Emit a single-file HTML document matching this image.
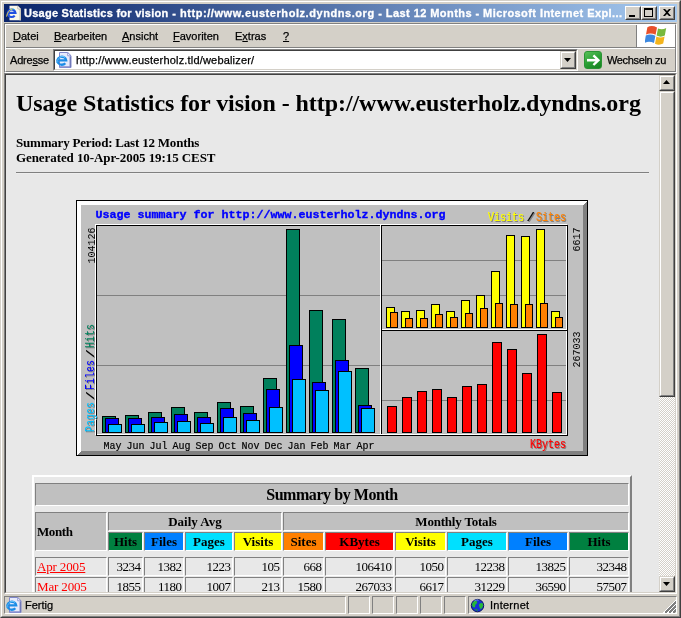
<!DOCTYPE html>
<html>
<head>
<meta charset="utf-8">
<title>Usage Statistics for vision - http://www.eusterholz.dyndns.org - Last 12 Months</title>
<style>
html,body{margin:0;padding:0;}
body{width:681px;height:618px;position:relative;overflow:hidden;background:#D4D0C8;font-family:"Liberation Sans",sans-serif;font-size:11px;color:#000;}
#root{position:absolute;left:0;top:0;width:681px;height:618px;overflow:hidden;will-change:transform;}
.a{position:absolute;}
.ui{position:absolute;font-family:"Liberation Sans",sans-serif;font-size:11px;line-height:13px;white-space:nowrap;color:#000;-webkit-text-stroke:0.25px #000;}
u{text-decoration:underline;}
/* window frame */
#frame{left:0;top:0;width:681px;height:618px;box-sizing:border-box;border:1px solid;border-color:#D4D0C8 #404040 #404040 #D4D0C8;}
#frame2{left:1px;top:1px;width:679px;height:616px;box-sizing:border-box;border:1px solid;border-color:#fff #808080 #808080 #fff;}
#title{left:4px;top:4px;width:673px;height:18px;background:linear-gradient(to right,#0A246A 0%,#A6CAF0 100%);}
#ttext{left:24px;top:6px;color:#fff;font-weight:bold;font-size:11px;line-height:14px;letter-spacing:0.43px;-webkit-text-stroke:0.3px #fff;}
.tb{position:absolute;top:6px;width:16px;height:14px;box-sizing:border-box;background:#D4D0C8;border:1px solid;border-color:#fff #404040 #404040 #fff;}
.tb:before{content:"";position:absolute;left:0;top:0;right:0;bottom:0;border:1px solid;border-color:#D4D0C8 #808080 #808080 #D4D0C8;}
/* page */
#page{left:6px;top:75px;width:653px;height:517px;background:#E8E8E8;overflow:hidden;}
.ser{position:absolute;font-family:"Liberation Serif",serif;white-space:nowrap;color:#000;}
/* table */
.c{position:absolute;box-sizing:border-box;border:1px solid;border-color:#808080 #fff #fff #808080;padding:1px;font-family:"Liberation Serif",serif;font-weight:bold;font-size:13px;line-height:15px;text-align:center;white-space:nowrap;color:#000;}
.d{font-weight:normal;text-align:right;}
/* scrollbar */
.sb{position:absolute;box-sizing:border-box;background:#D4D0C8;border:1px solid;border-color:#D4D0C8 #404040 #404040 #D4D0C8;}
.sb:before{content:"";position:absolute;left:0;top:0;right:0;bottom:0;border:1px solid;border-color:#fff #808080 #808080 #fff;}
.sp{position:absolute;box-sizing:border-box;height:18px;top:596px;border:1px solid;border-color:#808080 #fff #fff #808080;}
</style>
</head>
<body>
<div id="root">
<!-- ===== window frame ===== -->
<div class="a" id="frame"></div>
<div class="a" id="frame2"></div>
<div class="a" id="title"></div>
<!-- IE title icon -->
<svg class="a" style="left:6px;top:5px" width="16" height="16" viewBox="0 0 16 16">
  <path d="M3.5 0.8h8.3l3.2 3.2v11.2H3.5z" fill="#FAF7EA"/>
  <path d="M13.4 4v11.2h1.6V4z" fill="#CFCBBB"/>
  <path d="M11.8 0.8v3.2h3.2z" fill="#fff" stroke="#8F8B7B" stroke-width=".5"/>
  <path d="M2.6 7.9H9.5A3.9 3.8 0 1 0 8.7 10.6" fill="none" stroke="#2250E0" stroke-width="2.1"/>
  <path d="M4 5.2C5.5 3.6 7.6 3.6 8.8 4.8" fill="none" stroke="#35B7F0" stroke-width="1"/>
  <path d="M0.6 11.6C1 7.6 3.6 4.6 6.6 3.8" fill="none" stroke="#E8D04A" stroke-width="1"/>
</svg>
<div class="ui" id="ttext" style="white-space:pre"><span style="letter-spacing:0.258px">Usage Statistics for vision</span><span style="letter-spacing:0.56px"> - http://www.eusterholz.dyndns.org</span><span style="letter-spacing:0.439px"> - Last 12 Months</span><span style="letter-spacing:0.427px"> - Microsoft Internet Expl...</span></div>
<div class="tb" style="left:625px"><div class="a" style="left:3px;top:8px;width:6px;height:2px;background:#000"></div></div>
<div class="tb" style="left:641px"><div class="a" style="left:2px;top:1px;width:9px;height:9px;box-sizing:border-box;border:1px solid #000;border-top-width:2px"></div></div>
<div class="tb" style="left:659px"><svg class="a" style="left:3px;top:2px" width="8" height="7" viewBox="0 0 8 7"><path d="M0 0h2l2 2 2-2h2L5 3.5 8 7H6L4 5 2 7H0l3-3.5z" fill="#000"/></svg></div>

<!-- ===== menu bar ===== -->
<div class="ui" style="left:13px;top:30px"><u>D</u>atei</div>
<div class="ui" style="left:54px;top:30px"><u>B</u>earbeiten</div>
<div class="ui" style="left:122px;top:30px"><u>A</u>nsicht</div>
<div class="ui" style="left:173px;top:30px"><u>F</u>avoriten</div>
<div class="ui" style="left:235px;top:30px">E<u>x</u>tras</div>
<div class="ui" style="left:283px;top:30px"><u>?</u></div>
<!-- windows flag box -->
<div class="a" style="left:636px;top:25px;width:39px;height:22px;background:#fff;border-left:1px solid #808080;box-sizing:border-box"></div>
<svg class="a" style="left:645px;top:25px" width="22" height="20" viewBox="0 0 22 20">
  <path d="M2.4 2.2C5.4 0.6 8.6 0.8 12 2.6L10.6 9.8C7.6 8.2 4.4 8 1 9.4z" fill="#E8502A"/>
  <path d="M13 3.4C15.8 4.6 18.4 4.4 21.2 3L19.8 10.6C17 12 14.4 12 11.6 10.6z" fill="#78B83C"/>
  <path d="M0.8 10.4C3.8 9 7 9.2 10.4 10.8L9 18C6 16.6 2.8 16.4 -0.4 17.8z" fill="#3C88E0"/>
  <path d="M11.4 11.6C14.2 12.8 16.8 12.8 19.6 11.4L18.2 18.6C15.4 20 12.8 20 10 18.8z" fill="#F4B41C"/>
</svg>
<!-- rebar etched border + separator between menu and address -->
<div class="a" style="left:4px;top:23px;width:673px;height:50px;box-sizing:border-box;border:1px solid;border-color:#808080 #fff #fff #808080;"></div>
<div class="a" style="left:5px;top:24px;width:671px;height:48px;box-sizing:border-box;border:1px solid;border-color:#fff #808080 #808080 #fff;"></div>
<div class="a" style="left:6px;top:47px;width:669px;height:1px;background:#808080"></div>
<div class="a" style="left:6px;top:48px;width:669px;height:1px;background:#fff"></div>

<!-- ===== address bar ===== -->
<div class="ui" style="left:10px;top:54px;letter-spacing:-0.2px">Adre<u>s</u>se</div>
<div class="a" style="left:53px;top:49px;width:525px;height:22px;box-sizing:border-box;background:#fff;border:1px solid;border-color:#808080 #fff #fff #808080;"></div>
<div class="a" style="left:54px;top:50px;width:523px;height:20px;box-sizing:border-box;border:1px solid;border-color:#404040 #D4D0C8 #D4D0C8 #404040;"></div>
<svg class="a" style="left:56px;top:52px" width="16" height="16" viewBox="0 0 16 16">
  <path d="M3.5 0.5h8.2l3.3 3.3v11.7H3.5z" fill="#E6EAFB" stroke="#8088CC" stroke-width="1"/>
  <path d="M13.6 4.5v10.5h1.4V4.5z" fill="#7078B8"/>
  <path d="M4 14.2h10v1.3H4z" fill="#8C94D0"/>
  <path d="M11.7 0.5v3.3h3.3z" fill="#F8FAFF" stroke="#8088CC" stroke-width=".8"/>
  <path d="M2.2 8.4H10.2A4.4 4 0 1 0 9.3 11.2" fill="none" stroke="#1C8CE6" stroke-width="2.3"/>
  <path d="M3.6 5.6C5.2 4 7.6 4 9 5.4" fill="none" stroke="#7FD4FF" stroke-width="1"/>
  <path d="M0.7 11C1.2 7.6 3.6 5 6 4.4" fill="none" stroke="#5CB8F4" stroke-width="1"/>
</svg>
<div class="ui" style="left:76px;top:54px;letter-spacing:0.18px">http://www.eusterholz.tld/webalizer/</div>
<div class="sb" style="left:560px;top:51px;width:16px;height:18px"><svg class="a" style="left:3px;top:6px" width="7" height="4" viewBox="0 0 7 4"><path d="M0 0h7L3.5 4z" fill="#000"/></svg></div>
<!-- go button -->
<div class="a" style="left:584px;top:51px;width:18px;height:18px;box-sizing:border-box;border:1px solid #2A9434;border-radius:3px;background:linear-gradient(150deg,#58C058 0%,#2CA036 50%,#14801E 100%)"></div>
<svg class="a" style="left:584px;top:51px" width="18" height="18" viewBox="0 0 18 18">
  <path d="M3 9.2H13" fill="none" stroke="#fff" stroke-width="2.6"/>
  <path d="M9.4 4.4l5 4.8-5 4.8" fill="none" stroke="#fff" stroke-width="2.4"/>
</svg>
<div class="ui" style="left:607px;top:54px;letter-spacing:-0.35px">Wechseln zu</div>

<!-- ===== content frame ===== -->
<div class="a" style="left:4px;top:73px;width:673px;height:521px;box-sizing:border-box;border:1px solid;border-color:#808080 #fff #fff #808080;"></div>
<div class="a" style="left:5px;top:74px;width:671px;height:519px;box-sizing:border-box;border:1px solid;border-color:#404040 #D4D0C8 #D4D0C8 #404040;"></div>

<div class="a" id="page">
  <!-- coordinates inside #page are offset by (6,75) -->
  <div class="ser" style="left:10px;top:14px;font-size:24px;line-height:28px;font-weight:bold;letter-spacing:-0.066px">Usage Statistics for vision - http://www.eusterholz.dyndns.org</div>
  <div class="ser" style="left:10px;top:60px;font-size:13px;line-height:15px;font-weight:bold;letter-spacing:-0.2px">Summary Period: Last 12 Months</div>
  <div class="ser" style="left:10px;top:75px;font-size:13px;line-height:15px;font-weight:bold;letter-spacing:-0.085px">Generated 10-Apr-2005 19:15 CEST</div>
  <div class="a" style="left:10px;top:97px;width:633px;height:2px;box-sizing:border-box;border-top:1px solid #808080;border-bottom:1px solid #EEE"></div>
  <svg class="a" style="left:70px;top:125px" width="512" height="256" viewBox="0 0 512 256" shape-rendering="crispEdges">
<rect x="0" y="0" width="512" height="256" fill="#C0C0C0"/>
<path d="M0 0H512V256H0Z M5 5V251H507V5Z" fill-rule="evenodd" fill="#fff"/>
<path d="M512 0V256H0L5 251H507V5Z" fill="#808080"/>
<rect x="0.5" y="0.5" width="511" height="255" fill="none" stroke="#000"/>
<rect x="19.5" y="24.5" width="471" height="210" fill="none" stroke="#fff"/>
<rect x="20.5" y="25.5" width="471" height="210" fill="none" stroke="#000"/>
<path d="M304.5 25V234M305 129.5H491" stroke="#fff" fill="none"/>
<path d="M305.5 25V234M305 130.5H491" stroke="#000" fill="none"/>
<path d="M21 95.5H304" stroke="#808080" fill="none"/>
<path d="M21 165.5H304" stroke="#808080" fill="none"/>
<path d="M306 60.5H490" stroke="#808080" fill="none"/>
<path d="M306 95.5H490" stroke="#808080" fill="none"/>
<path d="M306 165.5H490" stroke="#808080" fill="none"/>
<path d="M306 200.5H490" stroke="#808080" fill="none"/>
<rect x="26.5" y="216.5" width="13" height="16" fill="#00805C" stroke="#000"/>
<rect x="29.5" y="218.5" width="13" height="14" fill="#0000FF" stroke="#000"/>
<rect x="32.5" y="224.5" width="13" height="8" fill="#00C0FF" stroke="#000"/>
<rect x="310.5" y="107.5" width="8" height="20" fill="#FFFF00" stroke="#000"/>
<rect x="314.5" y="112.5" width="7" height="15" fill="#FF8000" stroke="#000"/>
<rect x="311.5" y="206.5" width="9" height="26" fill="#FF0000" stroke="#000"/>
<rect x="49.5" y="215.5" width="13" height="17" fill="#00805C" stroke="#000"/>
<rect x="52.5" y="218.5" width="13" height="14" fill="#0000FF" stroke="#000"/>
<rect x="55.5" y="224.5" width="13" height="8" fill="#00C0FF" stroke="#000"/>
<rect x="325.5" y="111.5" width="8" height="16" fill="#FFFF00" stroke="#000"/>
<rect x="329.5" y="118.5" width="7" height="9" fill="#FF8000" stroke="#000"/>
<rect x="326.5" y="197.5" width="9" height="35" fill="#FF0000" stroke="#000"/>
<rect x="72.5" y="212.5" width="13" height="20" fill="#00805C" stroke="#000"/>
<rect x="75.5" y="217.5" width="13" height="15" fill="#0000FF" stroke="#000"/>
<rect x="78.5" y="222.5" width="13" height="10" fill="#00C0FF" stroke="#000"/>
<rect x="340.5" y="110.5" width="8" height="17" fill="#FFFF00" stroke="#000"/>
<rect x="344.5" y="118.5" width="7" height="9" fill="#FF8000" stroke="#000"/>
<rect x="341.5" y="191.5" width="9" height="41" fill="#FF0000" stroke="#000"/>
<rect x="95.5" y="207.5" width="13" height="25" fill="#00805C" stroke="#000"/>
<rect x="98.5" y="214.5" width="13" height="18" fill="#0000FF" stroke="#000"/>
<rect x="101.5" y="221.5" width="13" height="11" fill="#00C0FF" stroke="#000"/>
<rect x="355.5" y="104.5" width="8" height="23" fill="#FFFF00" stroke="#000"/>
<rect x="359.5" y="114.5" width="7" height="13" fill="#FF8000" stroke="#000"/>
<rect x="356.5" y="189.5" width="9" height="43" fill="#FF0000" stroke="#000"/>
<rect x="118.5" y="212.5" width="13" height="20" fill="#00805C" stroke="#000"/>
<rect x="121.5" y="217.5" width="13" height="15" fill="#0000FF" stroke="#000"/>
<rect x="124.5" y="223.5" width="13" height="9" fill="#00C0FF" stroke="#000"/>
<rect x="370.5" y="111.5" width="8" height="16" fill="#FFFF00" stroke="#000"/>
<rect x="374.5" y="117.5" width="7" height="10" fill="#FF8000" stroke="#000"/>
<rect x="371.5" y="197.5" width="9" height="35" fill="#FF0000" stroke="#000"/>
<rect x="141.5" y="202.5" width="13" height="30" fill="#00805C" stroke="#000"/>
<rect x="144.5" y="208.5" width="13" height="24" fill="#0000FF" stroke="#000"/>
<rect x="147.5" y="217.5" width="13" height="15" fill="#00C0FF" stroke="#000"/>
<rect x="385.5" y="100.5" width="8" height="27" fill="#FFFF00" stroke="#000"/>
<rect x="389.5" y="113.5" width="7" height="14" fill="#FF8000" stroke="#000"/>
<rect x="386.5" y="186.5" width="9" height="46" fill="#FF0000" stroke="#000"/>
<rect x="164.5" y="206.5" width="13" height="26" fill="#00805C" stroke="#000"/>
<rect x="167.5" y="213.5" width="13" height="19" fill="#0000FF" stroke="#000"/>
<rect x="170.5" y="220.5" width="13" height="12" fill="#00C0FF" stroke="#000"/>
<rect x="400.5" y="95.5" width="8" height="32" fill="#FFFF00" stroke="#000"/>
<rect x="404.5" y="108.5" width="7" height="19" fill="#FF8000" stroke="#000"/>
<rect x="401.5" y="184.5" width="9" height="48" fill="#FF0000" stroke="#000"/>
<rect x="187.5" y="178.5" width="13" height="54" fill="#00805C" stroke="#000"/>
<rect x="190.5" y="189.5" width="13" height="43" fill="#0000FF" stroke="#000"/>
<rect x="193.5" y="207.5" width="13" height="25" fill="#00C0FF" stroke="#000"/>
<rect x="415.5" y="71.5" width="8" height="56" fill="#FFFF00" stroke="#000"/>
<rect x="419.5" y="103.5" width="7" height="24" fill="#FF8000" stroke="#000"/>
<rect x="416.5" y="142.5" width="9" height="90" fill="#FF0000" stroke="#000"/>
<rect x="210.5" y="29.5" width="13" height="203" fill="#00805C" stroke="#000"/>
<rect x="213.5" y="145.5" width="13" height="87" fill="#0000FF" stroke="#000"/>
<rect x="216.5" y="179.5" width="13" height="53" fill="#00C0FF" stroke="#000"/>
<rect x="430.5" y="35.5" width="8" height="92" fill="#FFFF00" stroke="#000"/>
<rect x="434.5" y="104.5" width="7" height="23" fill="#FF8000" stroke="#000"/>
<rect x="431.5" y="149.5" width="9" height="83" fill="#FF0000" stroke="#000"/>
<rect x="233.5" y="110.5" width="13" height="122" fill="#00805C" stroke="#000"/>
<rect x="236.5" y="182.5" width="13" height="50" fill="#0000FF" stroke="#000"/>
<rect x="239.5" y="190.5" width="13" height="42" fill="#00C0FF" stroke="#000"/>
<rect x="445.5" y="36.5" width="8" height="91" fill="#FFFF00" stroke="#000"/>
<rect x="449.5" y="104.5" width="7" height="23" fill="#FF8000" stroke="#000"/>
<rect x="446.5" y="173.5" width="9" height="59" fill="#FF0000" stroke="#000"/>
<rect x="256.5" y="119.5" width="13" height="113" fill="#00805C" stroke="#000"/>
<rect x="259.5" y="160.5" width="13" height="72" fill="#0000FF" stroke="#000"/>
<rect x="262.5" y="171.5" width="13" height="61" fill="#00C0FF" stroke="#000"/>
<rect x="460.5" y="29.5" width="8" height="98" fill="#FFFF00" stroke="#000"/>
<rect x="464.5" y="103.5" width="7" height="24" fill="#FF8000" stroke="#000"/>
<rect x="461.5" y="134.5" width="9" height="98" fill="#FF0000" stroke="#000"/>
<rect x="279.5" y="168.5" width="13" height="64" fill="#00805C" stroke="#000"/>
<rect x="282.5" y="205.5" width="13" height="27" fill="#0000FF" stroke="#000"/>
<rect x="285.5" y="208.5" width="13" height="24" fill="#00C0FF" stroke="#000"/>
<rect x="475.5" y="111.5" width="8" height="16" fill="#FFFF00" stroke="#000"/>
<rect x="479.5" y="117.5" width="7" height="10" fill="#FF8000" stroke="#000"/>
<rect x="476.5" y="192.5" width="9" height="40" fill="#FF0000" stroke="#000"/>
</svg>
<svg class="a" style="left:70px;top:125px" width="512" height="256" viewBox="0 0 512 256" font-family="'Liberation Mono',monospace">
<text x="19.6" y="18.2" font-size="11.67" fill="#0000FF" textLength="350" lengthAdjust="spacingAndGlyphs" font-weight="bold" stroke="#0000FF" stroke-width="0.35">Usage summary for http://www.eusterholz.dyndns.org</text>
<text x="27.5" y="249" font-size="11.5" fill="#000" textLength="18" lengthAdjust="spacingAndGlyphs" stroke="#000" stroke-width="0.2">May</text>
<text x="50.5" y="249" font-size="11.5" fill="#000" textLength="18" lengthAdjust="spacingAndGlyphs" stroke="#000" stroke-width="0.2">Jun</text>
<text x="73.5" y="249" font-size="11.5" fill="#000" textLength="18" lengthAdjust="spacingAndGlyphs" stroke="#000" stroke-width="0.2">Jul</text>
<text x="96.5" y="249" font-size="11.5" fill="#000" textLength="18" lengthAdjust="spacingAndGlyphs" stroke="#000" stroke-width="0.2">Aug</text>
<text x="119.5" y="249" font-size="11.5" fill="#000" textLength="18" lengthAdjust="spacingAndGlyphs" stroke="#000" stroke-width="0.2">Sep</text>
<text x="142.5" y="249" font-size="11.5" fill="#000" textLength="18" lengthAdjust="spacingAndGlyphs" stroke="#000" stroke-width="0.2">Oct</text>
<text x="165.5" y="249" font-size="11.5" fill="#000" textLength="18" lengthAdjust="spacingAndGlyphs" stroke="#000" stroke-width="0.2">Nov</text>
<text x="188.5" y="249" font-size="11.5" fill="#000" textLength="18" lengthAdjust="spacingAndGlyphs" stroke="#000" stroke-width="0.2">Dec</text>
<text x="211.5" y="249" font-size="11.5" fill="#000" textLength="18" lengthAdjust="spacingAndGlyphs" stroke="#000" stroke-width="0.2">Jan</text>
<text x="234.5" y="249" font-size="11.5" fill="#000" textLength="18" lengthAdjust="spacingAndGlyphs" stroke="#000" stroke-width="0.2">Feb</text>
<text x="257.5" y="249" font-size="11.5" fill="#000" textLength="18" lengthAdjust="spacingAndGlyphs" stroke="#000" stroke-width="0.2">Mar</text>
<text x="280.5" y="249" font-size="11.5" fill="#000" textLength="18" lengthAdjust="spacingAndGlyphs" stroke="#000" stroke-width="0.2">Apr</text>
<text x="455" y="249" font-size="12" fill="#808080" textLength="36" lengthAdjust="spacingAndGlyphs" stroke="#808080" stroke-width="0.2">KBytes</text>
<text x="454" y="248" font-size="12" fill="#FF0000" textLength="36" lengthAdjust="spacingAndGlyphs" stroke="#FF0000" stroke-width="0.2">KBytes</text>
<text x="413" y="21.7" font-size="12" fill="#808080" textLength="36" lengthAdjust="spacingAndGlyphs" stroke="#808080" stroke-width="0.2">Visits</text>
<text x="412" y="20.7" font-size="12" fill="#FFFF00" textLength="36" lengthAdjust="spacingAndGlyphs" stroke="#FFFF00" stroke-width="0.2">Visits</text>
<text x="451.5" y="21.8" font-size="13" fill="#808080" textLength="8.5" lengthAdjust="spacingAndGlyphs" stroke="#808080" stroke-width="0.2">/</text>
<text x="450.5" y="20.8" font-size="13" fill="#000" textLength="8.5" lengthAdjust="spacingAndGlyphs" stroke="#000" stroke-width="0.2">/</text>
<text x="461" y="21.7" font-size="12" fill="#808080" textLength="30" lengthAdjust="spacingAndGlyphs" stroke="#808080" stroke-width="0.2">Sites</text>
<text x="460" y="20.7" font-size="12" fill="#FF8000" textLength="30" lengthAdjust="spacingAndGlyphs" stroke="#FF8000" stroke-width="0.2">Sites</text>
<text transform="translate(19 63.5) rotate(-90)" font-size="11.5" fill="#000" textLength="36" lengthAdjust="spacingAndGlyphs">104126</text>
<text transform="translate(504.2 51.5) rotate(-90)" font-size="11.5" fill="#000" textLength="24" lengthAdjust="spacingAndGlyphs">6617</text>
<text transform="translate(504.2 167.5) rotate(-90)" font-size="11.5" fill="#000" textLength="36" lengthAdjust="spacingAndGlyphs">267033</text>
<text transform="translate(19 233) rotate(-90)" font-size="12" fill="#808080" textLength="30" lengthAdjust="spacingAndGlyphs">Pages</text>
<text transform="translate(18 232) rotate(-90)" font-size="12" fill="#00C0FF" textLength="30" lengthAdjust="spacingAndGlyphs">Pages</text>
<text transform="translate(18.8 201) rotate(-90)" font-size="10.5" fill="#808080" textLength="9" lengthAdjust="spacingAndGlyphs">/</text>
<text transform="translate(17.8 200) rotate(-90)" font-size="10.5" fill="#000" textLength="9" lengthAdjust="spacingAndGlyphs">/</text>
<text transform="translate(19 191) rotate(-90)" font-size="12" fill="#808080" textLength="30" lengthAdjust="spacingAndGlyphs">Files</text>
<text transform="translate(18 190) rotate(-90)" font-size="12" fill="#0000FF" textLength="30" lengthAdjust="spacingAndGlyphs">Files</text>
<text transform="translate(18.8 159) rotate(-90)" font-size="10.5" fill="#808080" textLength="9" lengthAdjust="spacingAndGlyphs">/</text>
<text transform="translate(17.8 158) rotate(-90)" font-size="10.5" fill="#000" textLength="9" lengthAdjust="spacingAndGlyphs">/</text>
<text transform="translate(19 149) rotate(-90)" font-size="12" fill="#808080" textLength="24" lengthAdjust="spacingAndGlyphs">Hits</text>
<text transform="translate(18 148) rotate(-90)" font-size="12" fill="#00805C" textLength="24" lengthAdjust="spacingAndGlyphs">Hits</text>
</svg>
  <div class="a" style="left:26px;top:400px;width:600px;height:200px;box-sizing:border-box;border:2px solid;border-color:#fff #808080 #808080 #fff;"></div>
<div class="c" style="left:29px;top:408px;width:594px;height:23px;background:#C0C0C0;font-size:16px;line-height:19px;letter-spacing:-0.44px;">Summary by Month</div>
<div class="c" style="left:29px;top:437px;width:72px;height:39px;background:#C0C0C0;text-align:left;line-height:35px;letter-spacing:-0.4px;">Month</div>
<div class="c" style="left:102px;top:437px;width:174px;height:19px;background:#C0C0C0;">Daily Avg</div>
<div class="c" style="left:277px;top:437px;width:346px;height:19px;background:#C0C0C0;letter-spacing:-0.2px;">Monthly Totals</div>
<div class="c" style="left:102px;top:457px;width:35px;height:19px;background:#008040;">Hits</div>
<div class="c" style="left:138px;top:457px;width:40px;height:19px;background:#0080FF;">Files</div>
<div class="c" style="left:179px;top:457px;width:48px;height:19px;background:#00E0FF;">Pages</div>
<div class="c" style="left:228px;top:457px;width:48px;height:19px;background:#FFFF00;">Visits</div>
<div class="c" style="left:277px;top:457px;width:41px;height:19px;background:#FF8000;">Sites</div>
<div class="c" style="left:319px;top:457px;width:69px;height:19px;background:#FF0000;">KBytes</div>
<div class="c" style="left:389px;top:457px;width:51px;height:19px;background:#FFFF00;">Visits</div>
<div class="c" style="left:441px;top:457px;width:60px;height:19px;background:#00E0FF;">Pages</div>
<div class="c" style="left:502px;top:457px;width:60px;height:19px;background:#0080FF;">Files</div>
<div class="c" style="left:563px;top:457px;width:60px;height:19px;background:#008040;">Hits</div>
<div class="c d" style="left:29px;top:482px;width:72px;height:19px;text-align:left;letter-spacing:-0.15px;"><span style="color:#FF0000;text-decoration:underline">Apr 2005</span></div>
<div class="c d" style="left:102px;top:482px;width:35px;height:19px;letter-spacing:-0.5px;padding-right:1.5px;">3234</div>
<div class="c d" style="left:138px;top:482px;width:40px;height:19px;letter-spacing:-0.5px;padding-right:1.5px;">1382</div>
<div class="c d" style="left:179px;top:482px;width:48px;height:19px;letter-spacing:-0.5px;padding-right:1.5px;">1223</div>
<div class="c d" style="left:228px;top:482px;width:48px;height:19px;letter-spacing:-0.5px;padding-right:1.5px;">105</div>
<div class="c d" style="left:277px;top:482px;width:41px;height:19px;letter-spacing:-0.5px;padding-right:1.5px;">668</div>
<div class="c d" style="left:319px;top:482px;width:69px;height:19px;letter-spacing:-0.5px;padding-right:1.5px;">106410</div>
<div class="c d" style="left:389px;top:482px;width:51px;height:19px;letter-spacing:-0.5px;padding-right:1.5px;">1050</div>
<div class="c d" style="left:441px;top:482px;width:60px;height:19px;letter-spacing:-0.5px;padding-right:1.5px;">12238</div>
<div class="c d" style="left:502px;top:482px;width:60px;height:19px;letter-spacing:-0.5px;padding-right:1.5px;">13825</div>
<div class="c d" style="left:563px;top:482px;width:60px;height:19px;letter-spacing:-0.5px;padding-right:1.5px;">32348</div>
<div class="c d" style="left:29px;top:502px;width:72px;height:19px;text-align:left;letter-spacing:-0.15px;"><span style="color:#FF0000;text-decoration:underline">Mar 2005</span></div>
<div class="c d" style="left:102px;top:502px;width:35px;height:19px;letter-spacing:-0.5px;padding-right:1.5px;">1855</div>
<div class="c d" style="left:138px;top:502px;width:40px;height:19px;letter-spacing:-0.5px;padding-right:1.5px;">1180</div>
<div class="c d" style="left:179px;top:502px;width:48px;height:19px;letter-spacing:-0.5px;padding-right:1.5px;">1007</div>
<div class="c d" style="left:228px;top:502px;width:48px;height:19px;letter-spacing:-0.5px;padding-right:1.5px;">213</div>
<div class="c d" style="left:277px;top:502px;width:41px;height:19px;letter-spacing:-0.5px;padding-right:1.5px;">1580</div>
<div class="c d" style="left:319px;top:502px;width:69px;height:19px;letter-spacing:-0.5px;padding-right:1.5px;">267033</div>
<div class="c d" style="left:389px;top:502px;width:51px;height:19px;letter-spacing:-0.5px;padding-right:1.5px;">6617</div>
<div class="c d" style="left:441px;top:502px;width:60px;height:19px;letter-spacing:-0.5px;padding-right:1.5px;">31229</div>
<div class="c d" style="left:502px;top:502px;width:60px;height:19px;letter-spacing:-0.5px;padding-right:1.5px;">36590</div>
<div class="c d" style="left:563px;top:502px;width:60px;height:19px;letter-spacing:-0.5px;padding-right:1.5px;">57507</div>
</div>

<!-- ===== scrollbar ===== -->
<div class="a" style="left:659px;top:75px;width:16px;height:517px;background-color:#fff;background-image:repeating-conic-gradient(#D4D0C8 0% 25%, #fff 0% 50%);background-size:2px 2px;"></div>
<div class="sb" style="left:659px;top:75px;width:16px;height:16px"><svg class="a" style="left:3px;top:4px" width="7" height="4" viewBox="0 0 7 4"><path d="M0 4h7L3.5 0z" fill="#000"/></svg></div>
<div class="sb" style="left:659px;top:91px;width:16px;height:306px"></div>
<div class="sb" style="left:659px;top:576px;width:16px;height:16px"><svg class="a" style="left:3px;top:5px" width="7" height="4" viewBox="0 0 7 4"><path d="M0 0h7L3.5 4z" fill="#000"/></svg></div>

<!-- ===== status bar ===== -->
<div class="sp" style="left:4px;width:342px"></div>
<svg class="a" style="left:6px;top:597px" width="16" height="16" viewBox="0 0 16 16">
  <path d="M3.5 0.5h8.2l3.3 3.3v11.7H3.5z" fill="#E6EAFB" stroke="#8088CC" stroke-width="1"/>
  <path d="M13.6 4.5v10.5h1.4V4.5z" fill="#7078B8"/>
  <path d="M4 14.2h10v1.3H4z" fill="#8C94D0"/>
  <path d="M11.7 0.5v3.3h3.3z" fill="#F8FAFF" stroke="#8088CC" stroke-width=".8"/>
  <path d="M2.2 8.4H10.2A4.4 4 0 1 0 9.3 11.2" fill="none" stroke="#1C8CE6" stroke-width="2.3"/>
  <path d="M3.6 5.6C5.2 4 7.6 4 9 5.4" fill="none" stroke="#7FD4FF" stroke-width="1"/>
  <path d="M0.7 11C1.2 7.6 3.6 5 6 4.4" fill="none" stroke="#5CB8F4" stroke-width="1"/>
</svg>
<div class="ui" style="left:25px;top:599px">Fertig</div>
<div class="sp" style="left:348px;width:22px"></div>
<div class="sp" style="left:372px;width:22px"></div>
<div class="sp" style="left:396px;width:22px"></div>
<div class="sp" style="left:420px;width:22px"></div>
<div class="sp" style="left:444px;width:22px"></div>
<div class="sp" style="left:468px;width:209px"></div>
<svg class="a" style="left:470px;top:598px" width="15" height="15" viewBox="0 0 15 15">
  <circle cx="7.5" cy="7.6" r="6.2" fill="#1830D8" stroke="#0A1460" stroke-width="1"/>
  <path d="M3 4.2C4.4 2.6 6.2 2.4 7 3.4 7.6 4.4 6.6 5.6 5.6 6.6 4.8 7.6 5.6 9 4.6 9.6 3.4 9.8 2.2 8.4 2 6.8 2 5.8 2.4 4.8 3 4.2z" fill="#28B838"/>
  <path d="M9.2 6.2C10.6 4.6 12.4 4.6 13 6 13.4 7.6 12.8 9.4 11.6 10.6 10.6 11.2 9.8 10.6 9.6 9.4 9.4 8.2 8.6 7.2 9.2 6.2z" fill="#28B838"/>
  <path d="M5 11.2C6 10.6 7.4 11 7.8 12 7.4 13 6 13 5 11.2z" fill="#1E9A30"/>
  <path d="M4.4 3C5.6 2 7.4 1.8 8.6 2.2" fill="none" stroke="#8FB4FF" stroke-width=".8"/>
</svg>
<div class="ui" style="left:490px;top:599px;letter-spacing:0.25px">Internet</div>
<!-- size grip -->
<svg class="a" style="left:663px;top:600px" width="13" height="13" viewBox="0 0 13 13" shape-rendering="crispEdges">
  <g stroke="#fff" stroke-width="1.2" fill="none"><path d="M0.5 13L13 0.5M4.5 13L13 4.5M8.5 13L13 8.5"/></g>
  <g stroke="#808080" stroke-width="1.5" fill="none"><path d="M2 13L13 2M6 13L13 6M10 13L13 10"/></g>
</svg>
</div>
</body>
</html>
